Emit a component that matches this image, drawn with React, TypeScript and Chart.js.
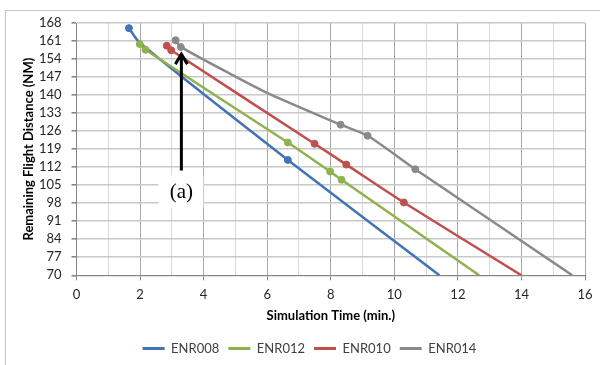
import React, { useEffect, useRef } from "react";
import { Chart, registerables } from "chart.js";

Chart.register(...registerables);

// ---- data ----
const seriesNames = ["ENR008", "ENR012", "ENR010", "ENR014"];
const seriesColors = ["#4374b8", "#8fb24f", "#c0504d", "#8a8a8a"];

const enr008X = [1.65, 2.0, 6.65, 11.42];
const enr008Y = [166.0, 160.2, 114.8, 70];
const enr008Marked = [true, false, true, false];

const enr012X = [1.99, 2.17, 6.65, 7.98, 8.34, 12.67];
const enr012Y = [159.8, 157.6, 121.6, 110.3, 107.1, 70];
const enr012Marked = [true, true, true, true, true, false];

const enr010X = [2.84, 2.98, 7.49, 8.49, 10.3, 14.0];
const enr010Y = [159.2, 157.4, 121.1, 113.0, 98.3, 70];
const enr010Marked = [true, true, true, true, true, false];

const enr014X = [3.12, 3.28, 5.0, 6.1, 8.31, 9.16, 10.66, 15.6];
const enr014Y = [161.3, 158.7, 147.2, 140.3, 128.5, 124.2, 111.2, 70];
const enr014Marked = [true, true, false, false, true, true, true, false];

const xTickValues = [0, 1, 2, 3, 4, 5, 6, 7, 8, 9, 10, 11, 12, 13, 14, 15, 16];
const yTickValues = [70, 77, 84, 91, 98, 105, 112, 119, 126, 133, 140, 147, 154, 161, 168];

const xTitle = "Simulation Time (min.)";
const yTitle = "Remaining Flight Distance (NM)";

// annotation "(a)"
const annotX = 3.3;
const annotArrowTop = 156.3;
const annotArrowBottom = 110.7;
const annotLabelY = 102;
const annotLabel = "(a)";

const FONT = "Lato, 'Liberation Sans', sans-serif";

function makeDataset(idx: number, xs: number[], ys: number[], marked: boolean[], order: number) {
  return {
    label: seriesNames[idx],
    data: xs.map((x, i) => ({ x, y: ys[i] })),
    borderColor: seriesColors[idx],
    backgroundColor: seriesColors[idx],
    pointBackgroundColor: seriesColors[idx],
    pointBorderColor: seriesColors[idx],
    borderWidth: 2.5,
    pointRadius: marked.map((m) => (m ? 3.5 : 0)),
    pointBorderWidth: 1,
    tension: 0.25,
    showLine: true,
    fill: false,
    order,
  };
}

const annotationPlugin = {
  id: "annotA",
  afterLayout(chart: any) {
    // Excel centres the legend slightly right of the canvas centre
    if (chart.legend) {
      chart.legend.left += 12;
      chart.legend.right += 12;
    }
  },
  afterDatasetsDraw(chart: any) {
    const ctx = chart.ctx;
    const xs = chart.scales.x;
    const ys = chart.scales.y;
    const px = xs.getPixelForValue(annotX);
    const yTop = ys.getPixelForValue(annotArrowTop);
    const yBot = ys.getPixelForValue(annotArrowBottom);
    const yLab = ys.getPixelForValue(annotLabelY);
    ctx.save();
    ctx.fillStyle = "#ffffff";
    ctx.fillRect(px - 23, yLab - 18, 45, 33);
    ctx.fillStyle = "#000";
    ctx.font = "21px 'Liberation Serif', 'DejaVu Serif', serif";
    ctx.textAlign = "center";
    ctx.textBaseline = "middle";
    ctx.fillText(annotLabel, px, yLab);
    ctx.strokeStyle = "#000";
    ctx.lineWidth = 3;
    ctx.beginPath();
    ctx.moveTo(px, yBot);
    ctx.lineTo(px, yTop + 2);
    ctx.stroke();
    ctx.beginPath();
    ctx.moveTo(px - 6, yTop + 11);
    ctx.lineTo(px, yTop + 1);
    ctx.lineTo(px + 6, yTop + 11);
    ctx.stroke();
    ctx.restore();
  },
};

export default function App() {
  const canvasRef = useRef<HTMLCanvasElement | null>(null);

  useEffect(() => {
    document.body.style.margin = "0";
    const canvas = canvasRef.current;
    if (!canvas) return;
    const chart = new Chart(canvas, {
      type: "scatter",
      data: {
        datasets: [
          makeDataset(0, enr008X, enr008Y, enr008Marked, 3),
          makeDataset(1, enr012X, enr012Y, enr012Marked, 2),
          makeDataset(2, enr010X, enr010Y, enr010Marked, 1),
          makeDataset(3, enr014X, enr014Y, enr014Marked, 0),
        ] as any,
      },
      options: {
        responsive: false,
        animation: false,
        layout: { padding: { left: 10, top: 23, right: 15, bottom: 0 } },
        plugins: {
          tooltip: { enabled: false },
          legend: {
            position: "bottom",
            labels: {
              boxWidth: 22,
              boxHeight: 3,
              padding: 9,
              color: "#404040",
              font: { family: FONT, size: 13 },
              generateLabels: (chart: any) => {
                const items = Chart.defaults.plugins.legend.labels.generateLabels(chart);
                return items
                  .map((it: any) => ({ ...it, lineWidth: 0, fillStyle: it.strokeStyle }))
                  .sort((a: any, b: any) => a.datasetIndex - b.datasetIndex);
              },
            },
          },
        },
        scales: {
          x: {
            type: "linear",
            min: 0,
            max: 16,
            afterBuildTicks: (scale: any) => {
              scale.ticks = xTickValues.map((v) => ({ value: v }));
            },
            afterFit: (scale: any) => {
              scale.height = 57.7;
            },
            ticks: {
              autoSkip: false,
              maxRotation: 0,
              padding: 7,
              color: "#262626",
              font: { family: FONT, size: 13 },
              callback: (v: any) => (Number(v) % 2 === 0 ? String(v) : ""),
            },
            grid: {
              color: (c: any) => (c.tick && c.tick.value % 2 === 0 ? "#a6a6a6" : "#d9d9d9"),
              tickColor: (c: any) => (c.tick && c.tick.value % 2 === 0 ? "#868686" : "rgba(0,0,0,0)"),
              tickLength: 5,
              lineWidth: 1,
            },
            border: { color: "#868686", width: 1 },
            title: {
              display: true,
              text: xTitle,
              color: "#000",
              font: { family: FONT, size: 13, weight: "bold" },
              padding: { top: 0, bottom: 9 },
            },
          },
          y: {
            type: "linear",
            min: 70,
            max: 168,
            afterBuildTicks: (scale: any) => {
              scale.ticks = yTickValues.map((v) => ({ value: v }));
            },
            afterFit: (scale: any) => {
              scale.width = 66.5;
            },
            ticks: {
              autoSkip: false,
              padding: 10,
              color: "#262626",
              font: { family: FONT, size: 13 },
            },
            grid: {
              color: "#c8c8c8",
              lineWidth: 1.6,
              tickColor: "#868686",
              tickLength: 5,
            },
            border: { color: "#868686", width: 1 },
            title: {
              display: true,
              text: yTitle,
              color: "#000",
              font: { family: FONT, size: 13, weight: "bold" },
              padding: { top: 11, bottom: 0 },
            },
          },
        },
      } as any,
      plugins: [annotationPlugin],
    });
    return () => chart.destroy();
  }, []);

  return (
    <div style={{ position: "relative", width: 600, height: 365, overflow: "hidden", background: "#fff" }}>
      <div
        style={{
          position: "absolute",
          left: 5,
          top: 10,
          width: 700,
          height: 500,
          border: "1px solid #c6c6c6",
          boxSizing: "border-box",
        }}
      />
      <canvas ref={canvasRef} width={600} height={365} style={{ position: "absolute", left: 0, top: 0 }} />
    </div>
  );
}
